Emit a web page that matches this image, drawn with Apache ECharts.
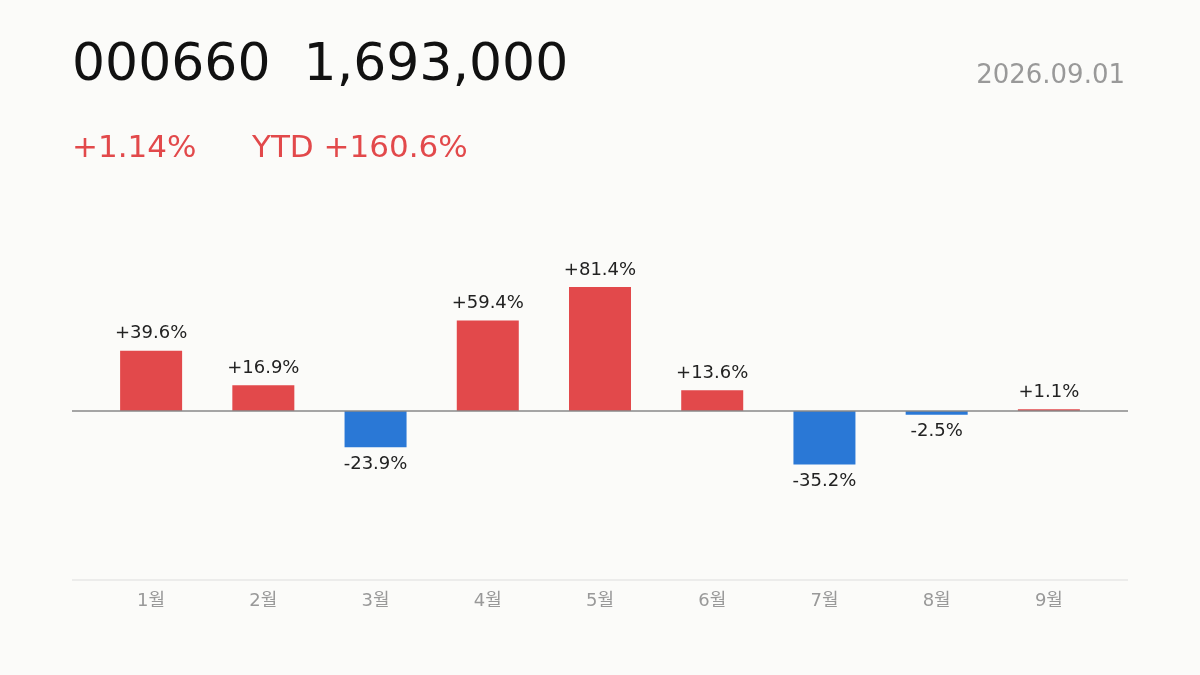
<!DOCTYPE html>
<html><head><meta charset="utf-8">
<script src="https://cdn.jsdelivr.net/npm/echarts@6/dist/echarts.min.js"></script>
<style>html,body{margin:0;background:#fbfbf9}#c{width:1200px;height:675px}</style>
</head><body><div id="c"></div>
<script>
const categories = ['1월','2월','3월','4월','5월','6월','7월','8월','9월'];
const values = [39.6, 16.9, -23.9, 59.4, 81.4, 13.6, -35.2, -2.5, 1.1];
const ticker = '000660', price = '1,693,000', date = '2026.09.01', dayChg = '+1.14%', ytd = 'YTD +160.6%';
const RED = '#e2494b', BLUE = '#2a78d6';
const font = '"DejaVu Sans", "Noto Sans CJK KR", sans-serif';
const chart = echarts.init(document.getElementById('c'));
chart.setOption({
  backgroundColor: '#fbfbf9',
  animation: false,
  grid: {left:95, right:95, top:220, bottom:95},
  xAxis: {type:'category', data:categories, axisTick:{show:false},
    axisLine:{show:false},
    axisLabel:{color:'#999', fontSize:18, margin:12, fontFamily:font}},
  yAxis: {type:'value', min:-111, max:125.4, show:false, splitLine:{show:false}},
  series: [{
    type:'bar', barWidth:62,
    data: values.map(v => ({value:v, itemStyle:{color: v >= 0 ? RED : BLUE},
      label:{position: v >= 0 ? 'top' : 'bottom'}})),
    label:{show:true, color:'#222', fontSize:18, fontFamily:font, distance:8,
      formatter: p => (p.value > 0 ? '+' : '') + p.value.toFixed(1) + '%'}
  }]
});
const y0 = chart.convertToPixel({yAxisIndex:0}, 0);
const yMin = chart.convertToPixel({yAxisIndex:0}, -111);
chart.setOption({
  graphic: [
    {type:'text', left:72, top:40, style:{text: ticker + '  ' + price, fontSize:52, fill:'#111', fontFamily:font}},
    {type:'text', right:75, top:63, style:{text: date, fontSize:26, fill:'#999', fontFamily:font}},
    {type:'text', left:72, top:133, style:{text: dayChg, fontSize:31, fill:RED, fontFamily:font}},
    {type:'text', left:252, top:133, style:{text: ytd, fontSize:31, fill:RED, fontFamily:font}},
    {type:'line', shape:{x1:72, y1:y0, x2:1128, y2:y0}, style:{stroke:'#888', lineWidth:1.5}, z:10},
    {type:'line', shape:{x1:72, y1:yMin, x2:1128, y2:yMin}, style:{stroke:'#ddd', lineWidth:1}}
  ]
});
</script></body></html>
